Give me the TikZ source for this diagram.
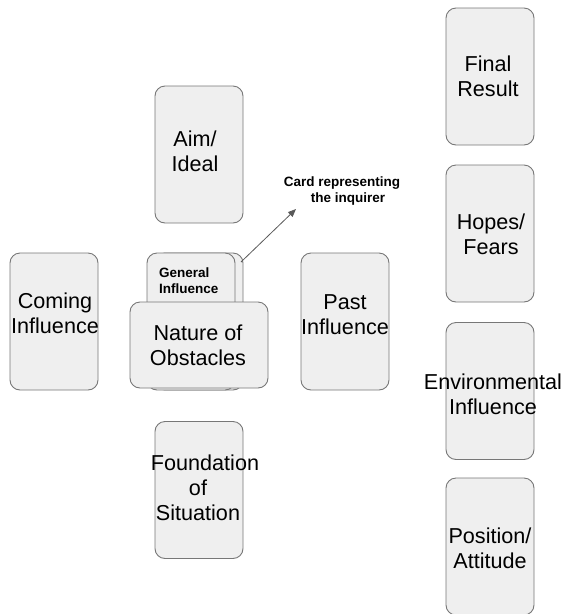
\documentclass[tikz,border=0pt]{standalone}
\usepackage{fontspec}
\setmainfont{Liberation Sans}
\usetikzlibrary{arrows.meta}
\definecolor{cardfill}{HTML}{EFEFEF}
\definecolor{cardline}{HTML}{777777}
\definecolor{pointer}{HTML}{595959}
\begin{document}
\begin{tikzpicture}[x=1pt,y=-1pt,
  card/.style={draw=cardline, fill=cardfill, line width=0.9pt, rounded corners=10pt,
    inner sep=0pt, minimum width=88pt, minimum height=137pt},
  widecard/.style={card, minimum width=138pt, minimum height=86pt},
  cardtext/.style={inner sep=0pt, align=center, font=\fontsize{21.6}{25}\selectfont},
  smalltext/.style={inner sep=0pt, font=\fontsize{13.5}{16}\selectfont\bfseries},
  pointerline/.style={draw=pointer, line width=0.8pt,
    -{Triangle[length=8pt,width=6.5pt]}}]
\useasboundingbox (0,0) rectangle (566,614);

% right-hand column
\node[card] (final) at (490,76.5) {};
\node[cardtext] (finaltxt) at (488,76.5) {Final\\Result};
\node[card] (hopes) at (490,233.5) {};
\node[cardtext] (hopestxt) at (491,234) {Hopes/\\Fears};
\node[card] (env) at (490,391) {};
\node[cardtext] (envtxt) at (493,394) {Environmental\\Influence};
\node[card] (position) at (490,546.5) {};
\node[cardtext] (positiontxt) at (490,548) {Position/\\Attitude};

% the cross
\node[card] (aim) at (199,154.5) {};
\node[cardtext] (aimtxt) at (195,151) {Aim/\\Ideal};
\node[card] (coming) at (54,321.5) {};
\node[cardtext] (comingtxt) at (55,313) {Coming\\Influence};
\node[card] (past) at (345,321.5) {};
\node[cardtext] (pasttxt) at (345,315) {Past\\Influence};
\node[card] (foundation) at (199,490) {};
\node[cardtext] (foundationtxt) at (198,488) {\hspace*{14pt}Foundation\\of\\Situation};

% centre stack: inquirer card, general influence, obstacles across them
\node[card] (inquirer) at (199,321.5) {};
\node[card] (general) at (191,321.5) {};
\node[smalltext, anchor=north west, align=left] (generaltxt) at (159,268) {General\\Influence};
\node[widecard] (nature) at (199,345) {};
\node[cardtext] (naturetxt) at (198,345) {Nature of\\Obstacles};

% pointer to the inquirer card
\node[smalltext, anchor=north, align=center] (inquirerlabel) at (342,177)
  {Card representing\\\hspace*{12pt}the inquirer};
\coordinate (pointerstart) at (241,262);
\coordinate (pointerend) at (296,209);
\draw[pointerline] (pointerstart) -- (pointerend);
\end{tikzpicture}
\end{document}
